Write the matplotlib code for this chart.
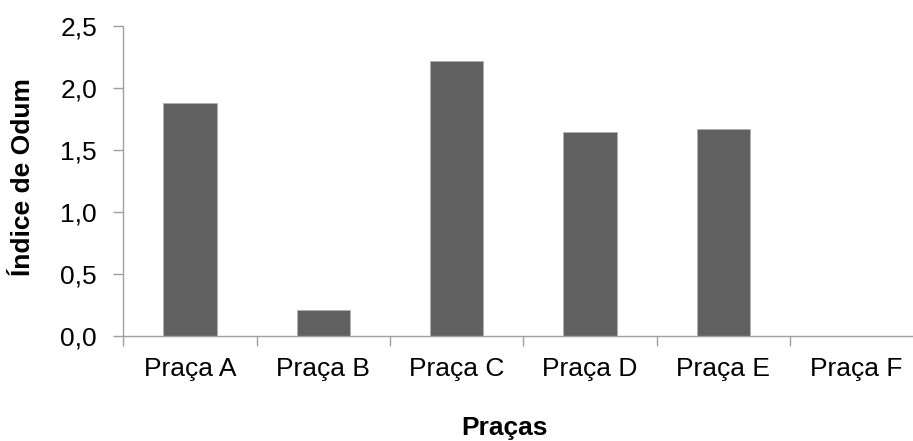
import numpy as np
import matplotlib.pyplot as plt

plt.rcParams['font.family'] = ['Liberation Sans', 'DejaVu Sans']

# Dados
pracas = ['Praça A', 'Praça B', 'Praça C', 'Praça D', 'Praça E', 'Praça F']
odum = [1.88, 0.21, 2.215, 1.643, 1.665, 0.0]

W, H = 913, 441
fig = plt.figure(figsize=(W / 100, H / 100), dpi=100)
# area do grafico em pixels: x 123.3 -> 923.3 (cortado), y 25.7 -> 336.3
ax = fig.add_axes([123.3 / W, 1 - 336.3 / H, 800 / W, (336.3 - 25.7) / H])

x = np.arange(len(pracas))
ax.bar(x, odum, width=0.4, color='#616161', edgecolor='#b0b0b0', linewidth=0.6)

ax.set_xlim(-0.5, len(pracas) - 0.5)
ax.set_ylim(0, 2.5)
ax.set_yticks(np.arange(0, 2.51, 0.5))
ax.set_yticklabels([f'{v:.1f}'.replace('.', ',') for v in np.arange(0, 2.51, 0.5)])
ax.set_xticks(x)
ax.set_xticklabels(pracas)
ax.set_xticks(np.arange(-0.5, len(pracas), 1), minor=True)

ax.tick_params(axis='x', which='major', length=0, pad=15, labelsize=19)
ax.tick_params(axis='x', which='minor', length=7, width=1, color='#a0a0a0', direction='out')
ax.tick_params(axis='y', length=7, width=1, color='#a0a0a0', pad=12, labelsize=19)

for s in ['top', 'right']:
    ax.spines[s].set_visible(False)
for s in ['left', 'bottom']:
    ax.spines[s].set_color('#a0a0a0')
    ax.spines[s].set_linewidth(1)

fig.text(504 / W, 1 - 428 / H, 'Praças', ha='center', va='center',
         fontsize=19, fontweight='bold')
fig.text(23 / W, 1 - 177 / H, 'Índice de Odum', ha='center', va='center',
         rotation=90, fontsize=19, fontweight='bold')

fig.savefig('out.png', dpi=100)
